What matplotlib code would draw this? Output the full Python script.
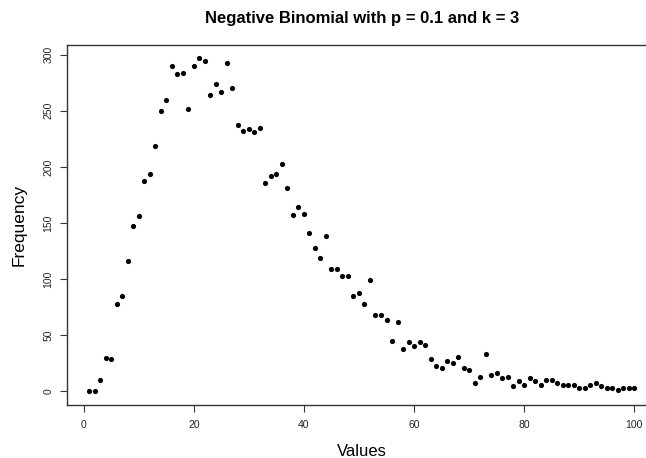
import matplotlib
matplotlib.use("Agg")
import matplotlib.pyplot as plt
import numpy as np

plt.rcParams['font.family'] = ['Liberation Sans', 'DejaVu Sans']

# values 1..100 and the counts
values = np.arange(1, 101)
frequency = [
    0, 0, 10, 30, 29, 78, 85, 116, 147, 156,
    187, 194, 219, 250, 260, 290, 283, 284, 252, 290,
    297, 294, 264, 274, 267, 293, 270, 237, 232, 234,
    231, 235, 186, 192, 194, 203, 181, 157, 164, 158,
    141, 128, 119, 138, 109, 109, 103, 103, 85, 88,
    78, 99, 68, 68, 64, 45, 62, 38, 44, 40,
    44, 41, 29, 23, 21, 27, 25, 31, 21, 19,
    7, 13, 33, 15, 16, 12, 13, 5, 9, 6,
    12, 9, 6, 10, 10, 7, 6, 6, 6, 3,
    3, 6, 7, 5, 3, 3, 1, 3, 3, 3,
]
x_ticks = [0, 20, 40, 60, 80, 100]
y_ticks = [0, 50, 100, 150, 200, 250, 300]

fig = plt.figure(figsize=(6.46, 4.58), dpi=100)
# R-style plot region; right edge runs past the (cropped) figure
ax = fig.add_axes([0.1043, 0.1164, 0.9113, 0.786])

ax.scatter(values, frequency, s=14, c='black', linewidths=0)

# R pads the data range by 4% on each side
ax.set_xlim(1 - 0.04 * 99, 100 + 0.04 * 99)
ax.set_ylim(0 - 0.04 * 297, 297 + 0.04 * 297)

ax.set_xticks(x_ticks)
ax.set_yticks(y_ticks)
ax.tick_params(direction='out', length=5, width=0.8, color='#333333',
               labelsize=7.5, labelcolor='#222222')
ax.tick_params(axis='x', pad=6)
ax.tick_params(axis='y', pad=5, labelrotation=90)
for lab in ax.get_yticklabels():
    lab.set_va('center')

for sp in ax.spines.values():
    sp.set_color('#333333')
    sp.set_linewidth(1.0)

# axis titles and main title placed like R's mtext lines
fig.text(362 / 646, 1 - 456 / 458, "Values", ha='center', va='baseline', fontsize=12)
fig.text(19 / 646, 1 - 224.7 / 458, "Frequency", ha='center', va='center',
         rotation=90, fontsize=12.5)
fig.text(362 / 646, 1 - 22.7 / 458, "Negative Binomial with p = 0.1 and k = 3",
         ha='center', va='baseline', fontsize=12, fontweight='bold')

fig.savefig("out.png", dpi=100)
